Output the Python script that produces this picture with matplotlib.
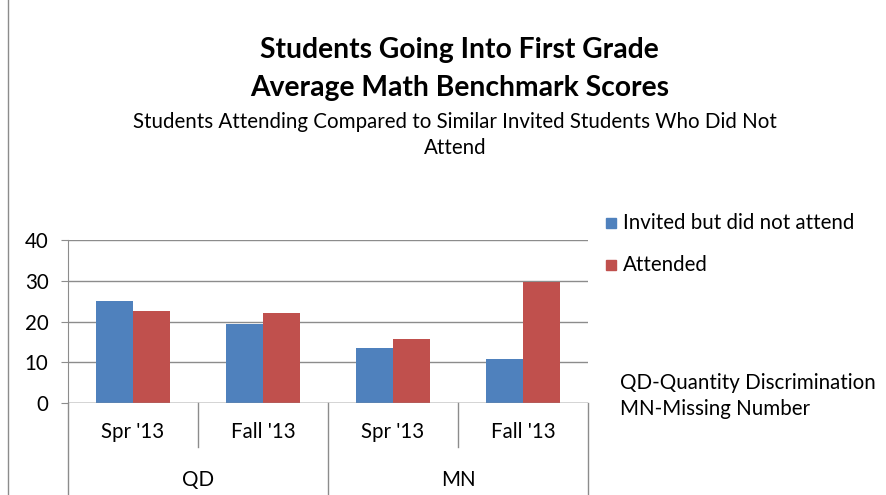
import numpy as np
import matplotlib.pyplot as plt
import matplotlib.transforms as mtransforms
from matplotlib.patches import Rectangle
from matplotlib.lines import Line2D

plt.rcParams['font.family'] = ['Lato', 'DejaVu Sans']

periods = ["Spr '13", "Fall '13", "Spr '13", "Fall '13"]
groups = ['QD', 'MN']
invited = [25.0, 19.5, 13.5, 10.7]
attended = [22.5, 22.0, 15.8, 29.8]
series_names = ['Invited but did not attend', 'Attended']
blue = '#4F81BD'
red = '#C0504D'
fs = 14.8

fig = plt.figure(figsize=(8.86, 4.95), dpi=100)
ax = fig.add_axes([68 / 886, 1 - 403 / 495, 520 / 886, 163 / 495])

x = np.arange(len(periods))
w = 0.285
ax.bar(x - w / 2, invited, w, color=blue, zorder=3)
ax.bar(x + w / 2, attended, w, color=red, zorder=3)

ax.set_xlim(-0.5, len(periods) - 0.5)
ax.set_ylim(0, 40)
ax.set_yticks([0, 10, 20, 30, 40])
ax.yaxis.grid(True, color='#8c8c8c', linewidth=1)
ax.set_axisbelow(True)
for s in ['top', 'right', 'bottom']:
    ax.spines[s].set_visible(False)
ax.spines['left'].set_color('#8c8c8c')
ax.axhline(0, color='#8c8c8c', linewidth=1, zorder=4)
ax.tick_params(axis='y', length=5, color='#8c8c8c', labelsize=fs, pad=9)
ax.set_xticks(x)
ax.set_xticklabels(periods, fontsize=fs)
ax.tick_params(axis='x', length=0, pad=14)

# category dividers and group labels below the axis
trans = mtransforms.blended_transform_factory(ax.transData, ax.transAxes)
for i in range(len(periods) + 1):
    xb = i - 0.5
    bottom = -0.27 if i % 2 == 1 else -0.6
    ax.add_line(Line2D([xb, xb], [0, bottom], transform=trans, color='#8c8c8c',
                       linewidth=1, clip_on=False))
for g, name in enumerate(groups):
    ax.text(2 * g + 0.5, -0.47, name, transform=trans, ha='center', va='center',
            fontsize=fs)

# titles
fig.text(0.519, 1 - 50 / 495, 'Students Going Into First Grade', ha='center', va='center',
         fontsize=20.3, fontweight='bold')
fig.text(0.519, 1 - 88 / 495, 'Average Math Benchmark Scores', ha='center', va='center',
         fontsize=20.3, fontweight='bold')
fig.text(0.514, 1 - 122 / 495, 'Students Attending Compared to Similar Invited Students Who Did Not',
         ha='center', va='center', fontsize=fs)
fig.text(0.514, 1 - 148 / 495, 'Attend', ha='center', va='center', fontsize=fs)

# legend
for k, (name, col) in enumerate(zip(series_names, [blue, red])):
    yc = 1 - (223 + 42 * k) / 495
    fig.patches.append(Rectangle((606 / 886, yc - 5 / 495), 10 / 886, 10 / 495,
                                 transform=fig.transFigure, color=col))
    fig.text(623 / 886, yc, name, ha='left', va='center', fontsize=fs)

fig.text(620 / 886, 1 - 383 / 495, 'QD-Quantity Discrimination', ha='left', va='center',
         fontsize=fs)
fig.text(620 / 886, 1 - 409 / 495, 'MN-Missing Number', ha='left', va='center', fontsize=fs)

# chart border
fig.add_artist(Line2D([8 / 886, 8 / 886], [0, 1], transform=fig.transFigure,
                      color='#8c8c8c', linewidth=1))

fig.savefig('out.png', dpi=100)
